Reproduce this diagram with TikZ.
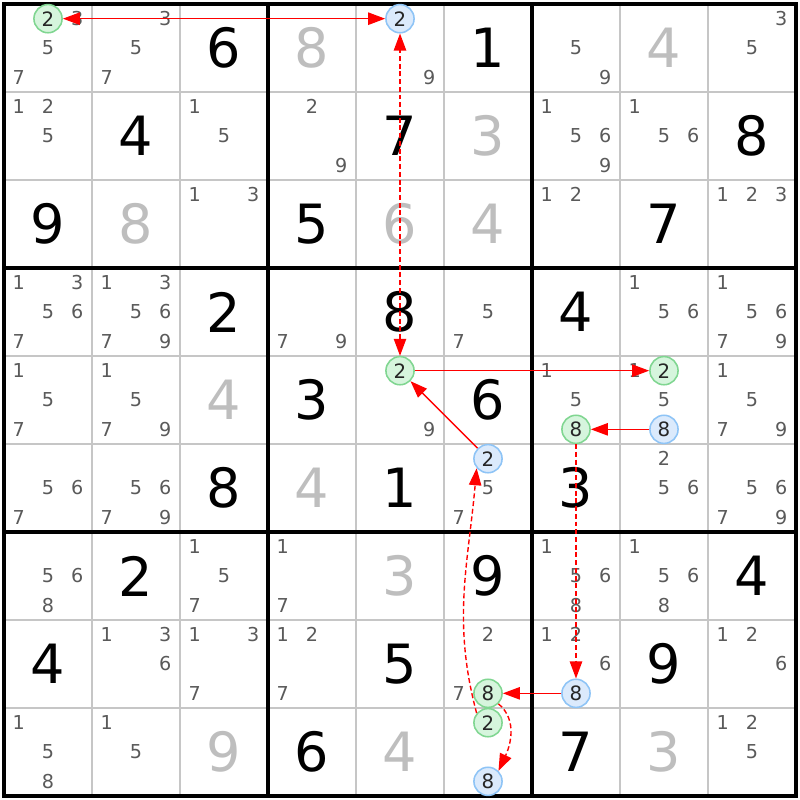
\documentclass[tikz,border=0pt]{standalone}
\usepackage{fontspec}
\setmainfont{DejaVu Sans}
\usetikzlibrary{arrows.meta}
\definecolor{candgray}{HTML}{5A5A5A}
\definecolor{solvedgray}{HTML}{BEBEBE}
\definecolor{gridgray}{HTML}{C6C6C6}
\definecolor{grnfill}{HTML}{D6F5DD}
\definecolor{grnline}{HTML}{80D691}
\definecolor{blufill}{HTML}{DBEAFC}
\definecolor{bluline}{HTML}{8EC4F6}
\definecolor{linkred}{HTML}{FF0000}
\tikzset{given/.style = {font=\fontsize{17.5}{17.5}\selectfont, text=black},
         solved/.style = {given, text=solvedgray},
         cand/.style = {font=\fontsize{6.2}{6.4}\selectfont, text=candgray, inner sep=0pt},
         grn/.style = {circle, draw=grnline, fill=grnfill, line width=0.5pt,
                       minimum size=0.32cm, inner sep=0pt,
                       font=\fontsize{6.4}{6.6}\selectfont, text=black!85},
         blu/.style = {grn, draw=bluline, fill=blufill},
         thingrid/.style = {gridgray, line width=0.5pt},
         boxline/.style = {black, line width=1pt},
         solidlink/.style = {linkred, line width=0.45pt,
                             >={Triangle[length=5.5pt, width=4pt]}},
         dashlink/.style = {solidlink, dash pattern=on 1.6pt off 0.9pt}}

\begin{document}
\begin{tikzpicture}
    \fill [white] (-0.0455, 0.0455) rectangle (9.0455, -9.0455);

    \foreach \i in {1,...,8} {
      \draw [thingrid] (\i, 0) -- (\i, -9);
      \draw [thingrid] (0, -\i) -- (9, -\i);
    }
    \foreach \i in {3,6} {
      \draw [boxline] (\i, 0) -- (\i, -9);
      \draw [boxline] (0, -\i) -- (9, -\i);
    }
    \draw [boxline, line width=1.1pt] (0, 0) rectangle (9, -9);

    \foreach \r/\c/\d in {0/2/6, 0/5/1, 1/1/4, 1/4/7, 1/8/8, 2/0/9, 2/3/5, 2/7/7,
                          3/2/2, 3/4/8, 3/6/4, 4/3/3, 4/5/6, 5/2/8, 5/4/1, 5/6/3,
                          6/1/2, 6/5/9, 6/8/4, 7/0/4, 7/4/5, 7/7/9, 8/3/6, 8/6/7} {
      \node [given] at (\c+0.5, -\r-0.5) {\d};
    }
    \foreach \r/\c/\d in {0/3/8, 0/7/4, 1/5/3, 2/1/8, 2/4/6, 2/5/4,
                          4/2/4, 5/3/4, 6/4/3, 8/2/9, 8/4/4, 8/7/3} {
      \node [solved] at (\c+0.5, -\r-0.5) {\d};
    }

    \foreach \r/\c/\ds in {0/0/{3,5,7}, 0/1/{3,5,7}, 0/4/{9}, 0/6/{5,9}, 0/8/{3,5},
                           1/0/{1,2,5}, 1/2/{1,5}, 1/3/{2,9}, 1/6/{1,5,6,9}, 1/7/{1,5,6},
                           2/2/{1,3}, 2/6/{1,2}, 2/8/{1,2,3},
                           3/0/{1,3,5,6,7}, 3/1/{1,3,5,6,7,9}, 3/3/{7,9}, 3/5/{5,7},
                           3/7/{1,5,6}, 3/8/{1,5,6,7,9},
                           4/0/{1,5,7}, 4/1/{1,5,7,9}, 4/4/{9}, 4/6/{1,5}, 4/7/{1,5},
                           4/8/{1,5,7,9},
                           5/0/{5,6,7}, 5/1/{5,6,7,9}, 5/5/{5,7}, 5/7/{2,5,6}, 5/8/{5,6,7,9},
                           6/0/{5,6,8}, 6/2/{1,5,7}, 6/3/{1,7}, 6/6/{1,5,6,8}, 6/7/{1,5,6,8},
                           7/1/{1,3,6}, 7/2/{1,3,7}, 7/3/{1,2,7}, 7/5/{2,7}, 7/6/{1,2,6},
                           7/8/{1,2,6},
                           8/0/{1,5,8}, 8/1/{1,5}, 8/8/{1,2,5}} {
      \foreach \d in \ds {
        \node [cand] at ({\c+(2*mod(\d-1,3)+1)/6}, {-\r-(2*floor((\d-1)/3)+1)/6}) {\d};
      }
    }

    \foreach \n/\r/\c/\d in {g00/0/0/2, g44/4/4/2, g47/4/7/2, g46/4/6/8, g75/7/5/8, g85/8/5/2} {
      \node [grn] (\n) at ({\c+(2*mod(\d-1,3)+1)/6}, {-\r-(2*floor((\d-1)/3)+1)/6}) {\d};
    }
    \foreach \n/\r/\c/\d in {b04/0/4/2, b47/4/7/8, b76/7/6/8, b85/8/5/8, b55/5/5/2} {
      \node [blu] (\n) at ({\c+(2*mod(\d-1,3)+1)/6}, {-\r-(2*floor((\d-1)/3)+1)/6}) {\d};
    }

    \draw [solidlink, <->] (g00) -- (b04);
    \draw [dashlink, <->] (g44) -- (b04);
    \draw [solidlink, ->] (g44) -- (g47);
    \draw [solidlink, ->] (b47) -- (g46);
    \draw [dashlink, ->] (g46) -- (b76);
    \draw [solidlink, ->] (b76) -- (g75);
    \draw [dashlink, ->] (g75.-45) to [out=-40, in=65] (b85.45);
    \draw [dashlink, ->] (g85.140) to [out=105, in=-95] (b55.220);
    \draw [solidlink, ->] (b55) -- (g44);
  \end{tikzpicture}
\end{document}
